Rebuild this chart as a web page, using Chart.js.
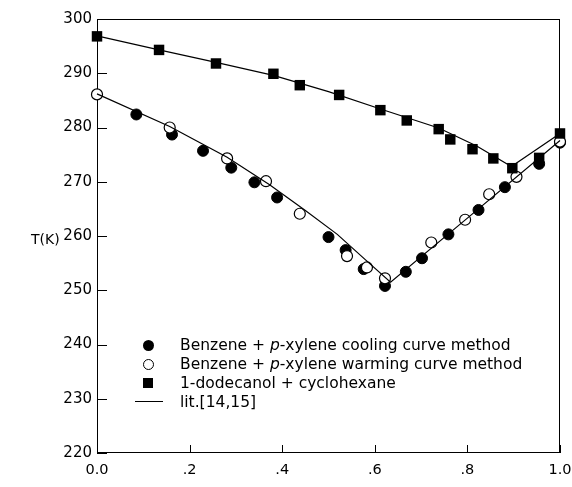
<!DOCTYPE html>
<html>
<head>
<meta charset="utf-8">
<script src="https://cdn.jsdelivr.net/npm/chart.js@4.4.0/dist/chart.umd.min.js"></script>
<style>
  html, body { margin: 0; padding: 0; background: #fff; }
  #wrap { position: relative; width: 572px; height: 487px; font-family: "DejaVu Sans", sans-serif; color: #000; }
  #ylab { position: absolute; left: 31px; top: 231px; font-size: 14px; }
  .lg { position: absolute; left: 180px; font-size: 15.5px; white-space: nowrap; line-height: 18px; }
  .mk { position: absolute; box-sizing: border-box; }
</style>
</head>
<body>
<div id="wrap">
  <canvas id="chart" width="572" height="487"></canvas>
  <div id="ylab">T(K)</div>

  <div class="mk" style="left:143px;top:340px;width:11px;height:11px;border-radius:50%;background:#000;"></div>
  <div class="lg" style="top:336px;">Benzene + <i>p</i>-xylene cooling curve method</div>

  <div class="mk" style="left:143px;top:359px;width:11px;height:11px;border-radius:50%;border:1.2px solid #000;"></div>
  <div class="lg" style="top:355px;">Benzene + <i>p</i>-xylene warming curve method</div>

  <div class="mk" style="left:143px;top:378px;width:10px;height:10px;background:#000;"></div>
  <div class="lg" style="top:374px;">1-dodecanol + cyclohexane</div>

  <div class="mk" style="left:135px;top:401px;width:28px;height:0;border-top:1.2px solid #000;"></div>
  <div class="lg" style="top:393px;">lit.[14,15]</div>
</div>

<script>
// benzene + p-xylene, cooling curve method (filled circles)
const coolX = [0.085, 0.162, 0.229, 0.29, 0.34, 0.389, 0.5, 0.537, 0.576, 0.622, 0.667, 0.702, 0.759, 0.824, 0.881, 0.955, 1.0];
const coolT = [282.4, 278.7, 275.7, 272.6, 269.9, 267.1, 259.8, 257.4, 253.9, 250.8, 253.4, 255.9, 260.3, 264.8, 269.0, 273.3, 277.2];

// benzene + p-xylene, warming curve method (open circles)
const warmX = [0.0, 0.157, 0.281, 0.365, 0.438, 0.54, 0.583, 0.622, 0.722, 0.795, 0.847, 0.906, 1.0];
const warmT = [286.1, 280.0, 274.3, 270.1, 264.1, 256.3, 254.2, 252.2, 258.8, 263.0, 267.7, 270.9, 277.4];

// 1-dodecanol + cyclohexane (filled squares)
const dodX = [0.0, 0.134, 0.257, 0.381, 0.438, 0.523, 0.612, 0.669, 0.738, 0.763, 0.811, 0.856, 0.897, 0.955, 1.0];
const dodT = [296.8, 294.3, 291.8, 289.9, 287.8, 286.0, 283.2, 281.3, 279.7, 277.8, 276.0, 274.3, 272.5, 274.4, 278.9];

// literature curves
const litBX = [0.0, 0.157, 0.281, 0.372, 0.45, 0.519, 0.58, 0.634, 0.8, 1.0];
const litBT = [286.2, 280.2, 274.5, 269.5, 264.7, 260.3, 255.6, 251.5, 263.3, 277.6];
const litDX = [0.0, 0.134, 0.257, 0.381, 0.5, 0.609, 0.738, 0.82, 0.895, 1.0];
const litDT = [296.9, 294.3, 292.0, 289.6, 286.6, 283.5, 279.9, 276.6, 272.8, 278.9];

const xTicks = [0, 0.2, 0.4, 0.6, 0.8, 1.0];
const xTickLabels = ["0.0", ".2", ".4", ".6", ".8", "1.0"];
const yTicks = [220, 230, 240, 250, 260, 270, 280, 290, 300];

function pts(xs, ys) {
    return xs.map((x, i) => ({ x: x, y: ys[i] }));
}

const frame = {
    id: "frame",
    beforeDatasetsDraw(chart) {
        const ctx = chart.ctx;
        const a = chart.chartArea;
        const x = chart.scales.x;
        const y = chart.scales.y;
        ctx.save();
        ctx.strokeStyle = "#000";
        ctx.lineWidth = 1;
        ctx.strokeRect(a.left + 0.5, a.top + 0.5, a.width - 1, a.height - 1);
        ctx.beginPath();
        yTicks.forEach(function (v) {
            const p = Math.round(y.getPixelForValue(v)) + 0.5;
            ctx.moveTo(a.left, p);
            ctx.lineTo(a.left + 10, p);
        });
        xTicks.forEach(function (v) {
            const p = Math.round(x.getPixelForValue(v)) + 0.5;
            ctx.moveTo(p, a.bottom);
            ctx.lineTo(p, a.bottom - 8);
        });
        ctx.stroke();
        ctx.restore();
    },
};

const ctx = document.getElementById("chart").getContext("2d");

const chart = new Chart(ctx, {
    type: "scatter",
    data: {
        datasets: [
            {
                label: "Benzene + p-xylene cooling curve method",
                data: pts(coolX, coolT),
                pointStyle: "circle",
                pointRadius: 5.5,
                backgroundColor: "#000",
                borderColor: "#000",
                borderWidth: 1,
                order: 4,
                clip: false,
            },
            {
                label: "Benzene + p-xylene warming curve method",
                data: pts(warmX, warmT),
                pointStyle: "circle",
                pointRadius: 5.5,
                backgroundColor: "#fff",
                borderColor: "#000",
                borderWidth: 1.2,
                order: 3,
                clip: false,
            },
            {
                label: "lit.[14,15]",
                data: pts(litBX, litBT),
                showLine: true,
                pointRadius: 0,
                borderColor: "#000",
                borderWidth: 1.2,
                tension: 0,
                order: 2,
                clip: false,
            },
            {
                label: "lit.[14,15] dodecanol",
                data: pts(litDX, litDT),
                showLine: true,
                pointRadius: 0,
                borderColor: "#000",
                borderWidth: 1.2,
                tension: 0,
                order: 2,
                clip: false,
            },
            {
                label: "1-dodecanol + cyclohexane",
                data: pts(dodX, dodT),
                pointStyle: "rect",
                pointRadius: 7.4,
                backgroundColor: "#000",
                borderColor: "#000",
                borderWidth: 0,
                order: 1,
                clip: false,
            },
        ],
    },
    options: {
        responsive: false,
        animation: false,
        events: [],
        layout: {
            padding: { top: 19, right: 0, left: 0, bottom: 0 },
        },
        plugins: {
            legend: { display: false },
            tooltip: { enabled: false },
        },
        scales: {
            x: {
                type: "linear",
                min: 0,
                max: 1,
                afterBuildTicks: function (scale) {
                    scale.ticks = xTicks.map((v) => ({ value: v }));
                },
                afterFit: function (scale) {
                    scale.height = 34;
                    scale.paddingRight = 12;
                    scale.paddingLeft = 0;
                },
                grid: { display: false, drawTicks: false },
                border: { display: false },
                ticks: {
                    padding: 9,
                    color: "#000",
                    font: { family: "DejaVu Sans", size: 14.5 },
                    maxRotation: 0,
                    callback: function (v, i) {
                        return xTickLabels[i];
                    },
                },
            },
            y: {
                type: "linear",
                min: 220,
                max: 300,
                afterBuildTicks: function (scale) {
                    scale.ticks = yTicks.map((v) => ({ value: v }));
                },
                afterFit: function (scale) {
                    scale.width = 97;
                },
                grid: { display: false, drawTicks: false },
                border: { display: false },
                ticks: {
                    padding: 5,
                    color: "#000",
                    font: { family: "DejaVu Sans", size: 15 },
                },
            },
        },
    },
    plugins: [frame],
});
</script>
</body>
</html>
